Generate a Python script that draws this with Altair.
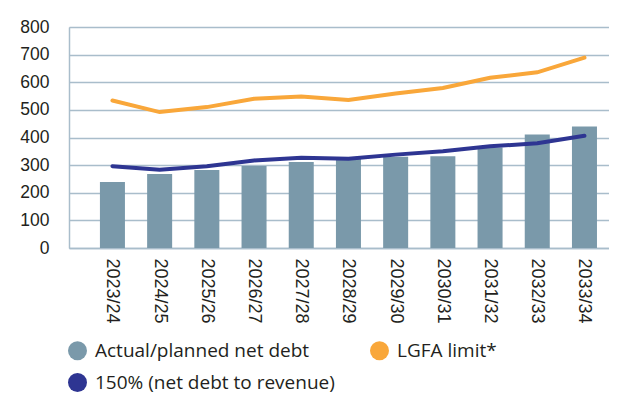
import altair as alt
import pandas as pd

categories = ["2023/24", "2024/25", "2025/26", "2026/27", "2027/28", "2028/29",
              "2029/30", "2030/31", "2031/32", "2032/33", "2033/34"]
net_debt = [239, 268, 282, 297, 311, 324, 330, 332, 364, 411, 440]
lgfa_limit = [534, 492, 510, 540, 548, 536, 559, 579, 616, 636, 689]
ratio_150 = [296, 283, 296, 317, 327, 323, 338, 350, 368, 379, 406]
# legend entries (column-major order: col1 = net debt, 150%; col2 = LGFA)
series_names = ["Actual/planned net debt", "150% (net debt to revenue)", "LGFA limit*"]
series_colors = ["#7a99aa", "#2e3592", "#f9a73a"]
y_ticks = [0, 100, 200, 300, 400, 500, 600, 700, 800]

df = pd.DataFrame({"year": categories, "net_debt": net_debt,
                   "lgfa": lgfa_limit, "ratio": ratio_150})
legend_df = pd.DataFrame({"series": series_names})

GRID = "#a9bdcb"
TXT = "#231f20"

x_axis = alt.Axis(title=None, labelAngle=90, labelFont="Liberation Sans",
                  labelFontSize=18, labelColor=TXT, labelPadding=10,
                  ticks=False, tickSize=0, domainColor=GRID, domainWidth=1.5,
                  grid=False, labelAlign="left", labelBaseline="middle")
x_scale = alt.Scale(paddingInner=0.47, paddingOuter=0.455, align=0.72)
y_scale = alt.Scale(domain=[0, 800], nice=False)
y_axis = alt.Axis(title=None, values=y_ticks, labelFont="Liberation Sans",
                  labelFontSize=17.5, labelColor=TXT, labelPadding=20,
                  labelOverlap=False, ticks=False, tickSize=0,
                  domainColor=GRID, domainWidth=1.5,
                  grid=True, gridColor=GRID, gridWidth=1.5)


def xe():
    return alt.X("year:N", sort=categories, scale=x_scale, axis=x_axis)


def ye(field):
    return alt.Y(f"{field}:Q", scale=y_scale, axis=y_axis)


base = alt.Chart(df)
bars = base.mark_bar(color="#7a99aa").encode(x=xe(), y=ye("net_debt"))
line_ratio = base.mark_line(color="#2e3592", strokeWidth=4, strokeCap="round").encode(
    x=xe(), y=ye("ratio"))
line_lgfa = base.mark_line(color="#f9a73a", strokeWidth=4, strokeCap="round").encode(
    x=xe(), y=ye("lgfa"))
legend_layer = alt.Chart(legend_df).mark_circle(opacity=0).encode(
    color=alt.Color("series:N",
                    scale=alt.Scale(domain=series_names, range=series_colors),
                    legend=alt.Legend(title=None, orient="none", legendX=-1, legendY=314,
                                      columns=2, columnPadding=35, rowPadding=12,
                                      symbolType="circle", symbolSize=361,
                                      symbolStrokeWidth=0, symbolOpacity=1,
                                      labelFont="Open Sans", labelFontSize=19,
                                      labelColor=TXT, labelOffset=8, labelLimit=400,
                                      padding=0))
)

chart = alt.layer(bars, line_ratio, line_lgfa, legend_layer).properties(
    width=540, height=221,
    autosize=alt.AutoSizeParams(type="none"),
    padding={"left": 61, "top": 19, "right": 0, "bottom": 146},
).configure_view(stroke=None).configure(background="white")

chart.save("out.html", embed_options={"renderer": "svg", "actions": False})
